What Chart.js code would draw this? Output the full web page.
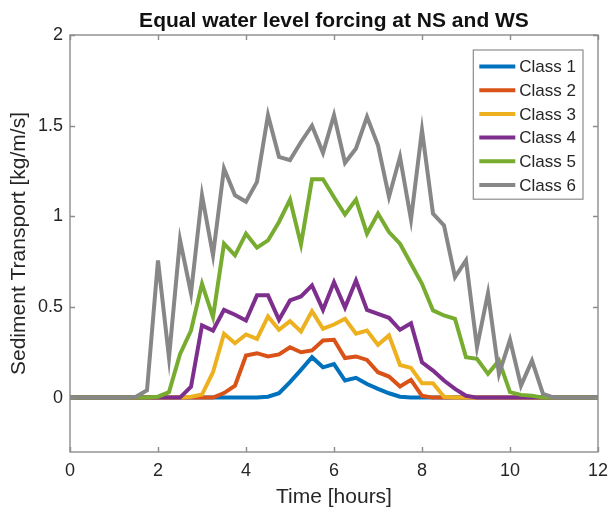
<!DOCTYPE html>
<html>
<head>
<meta charset="utf-8">
<script src="https://cdn.jsdelivr.net/npm/chart.js@4.4.1/dist/chart.umd.min.js"></script>
<style>
  html, body { margin: 0; padding: 0; background: #ffffff; }
  #wrap { width: 616px; height: 510px; }
</style>
</head>
<body>
<div id="wrap"><canvas id="c" width="616" height="510"></canvas></div>
<script>
// Time axis (hours) and sediment transport per grain-size class (kg/m/s)
const hours = [0, 0.25, 0.5, 0.75, 1, 1.25, 1.5, 1.75, 2, 2.25, 2.5, 2.75, 3, 3.25, 3.5, 3.75,
  4, 4.25, 4.5, 4.75, 5, 5.25, 5.5, 5.75, 6, 6.25, 6.5, 6.75, 7, 7.25, 7.5, 7.75,
  8, 8.25, 8.5, 8.75, 9, 9.25, 9.5, 9.75, 10, 10.25, 10.5, 10.75, 11, 11.25, 11.5, 11.75, 12];

const class1 = [0, 0, 0, 0, 0, 0, 0, 0, 0, 0, 0, 0, 0, 0, 0, 0,
  0, 0, 0.005, 0.024, 0.085, 0.153, 0.223, 0.167, 0.185, 0.094, 0.109, 0.075, 0.048, 0.024, 0.005, 0,
  0, 0, 0, 0, 0, 0, 0, 0, 0, 0, 0, 0, 0, 0, 0, 0, 0];

const class2 = [0, 0, 0, 0, 0, 0, 0, 0, 0, 0, 0, 0, 0, 0, 0.025, 0.066,
  0.232, 0.245, 0.227, 0.238, 0.278, 0.25, 0.26, 0.315, 0.319, 0.218, 0.227, 0.208, 0.14, 0.116, 0.061, 0.098,
  0.01, 0, 0, 0, 0, 0, 0, 0, 0, 0, 0, 0, 0, 0, 0, 0, 0];

const class3 = [0, 0, 0, 0, 0, 0, 0, 0, 0, 0, 0, 0.005, 0.017, 0.14, 0.352, 0.30,
  0.348, 0.324, 0.448, 0.374, 0.422, 0.365, 0.477, 0.38, 0.403, 0.435, 0.352, 0.37, 0.291, 0.343, 0.18, 0.164,
  0.079, 0.079, 0.005, 0, 0, 0, 0, 0, 0, 0, 0, 0, 0, 0, 0, 0, 0];

const class4 = [0, 0, 0, 0, 0, 0, 0, 0, 0, 0, 0, 0.06, 0.398, 0.37, 0.484, 0.457,
  0.425, 0.564, 0.564, 0.429, 0.536, 0.558, 0.619, 0.484, 0.637, 0.497, 0.646, 0.484, 0.462, 0.44, 0.374, 0.41,
  0.195, 0.149, 0.094, 0.048, 0.01, 0, 0, 0, 0, 0, 0, 0, 0, 0, 0, 0, 0];

const class5 = [0, 0, 0, 0, 0, 0, 0, 0, 0.005, 0.03, 0.24, 0.37, 0.628, 0.444, 0.849, 0.785,
  0.904, 0.827, 0.867, 0.969, 1.092, 0.845, 1.204, 1.204, 1.105, 1.01, 1.092, 0.904, 1.015, 0.913, 0.849, 0.738,
  0.628, 0.481, 0.453, 0.435, 0.223, 0.214, 0.131, 0.204, 0.03, 0.015, 0.01, 0, 0, 0, 0, 0, 0];

const class6 = [0, 0, 0, 0, 0, 0, 0.005, 0.04, 0.757, 0.22, 0.87, 0.576, 1.116, 0.785, 1.264, 1.116,
  1.08, 1.19, 1.558, 1.328, 1.31, 1.41, 1.50, 1.35, 1.558, 1.295, 1.374, 1.549, 1.392, 1.107, 1.328, 0.982,
  1.475, 1.015, 0.95, 0.665, 0.757, 0.278, 0.576, 0.13, 0.319, 0.066, 0.204, 0.02, 0, 0, 0, 0, 0];

const seriesNames = ['Class 1', 'Class 2', 'Class 3', 'Class 4', 'Class 5', 'Class 6'];
const seriesValues = [class1, class2, class3, class4, class5, class6];
const seriesColors = ['#0072BD', '#D95319', '#EDB120', '#7E2F8E', '#77AC30', '#878787'];

const xTickValues = [0, 2, 4, 6, 8, 10, 12];
const yTickValues = [0, 0.5, 1, 1.5, 2];

const FONT = "'Liberation Sans', Arial, Helvetica, sans-serif";
const TEXT_COLOR = '#262626';
const AXIS_COLOR = '#8c8c8c';

// Box around the axes with inward tick marks on all four sides
const axesFrame = {
  id: 'axesFrame',
  afterDatasetsDraw(chart) {
    const { ctx, chartArea: a, scales: { x, y } } = chart;
    const L = 5;
    ctx.save();
    ctx.strokeStyle = AXIS_COLOR;
    ctx.lineWidth = 1.4;
    ctx.strokeRect(a.left, a.top, a.right - a.left, a.bottom - a.top);
    ctx.beginPath();
    x.ticks.forEach(t => {
      const px = Math.round(x.getPixelForValue(t.value)) + 0.5;
      ctx.moveTo(px, a.bottom); ctx.lineTo(px, a.bottom - L);
      ctx.moveTo(px, a.top); ctx.lineTo(px, a.top + L);
    });
    y.ticks.forEach(t => {
      const py = Math.round(y.getPixelForValue(t.value)) + 0.5;
      ctx.moveTo(a.left, py); ctx.lineTo(a.left + L, py);
      ctx.moveTo(a.right, py); ctx.lineTo(a.right - L, py);
    });
    ctx.stroke();
    ctx.restore();
  }
};

// Boxed legend in the upper-right corner of the axes
const boxedLegend = {
  id: 'boxedLegend',
  afterDraw(chart) {
    const { ctx, chartArea: a } = chart;
    const sets = chart.data.datasets.slice().sort((p, q) => p.legendIndex - q.legendIndex);
    ctx.save();
    ctx.font = '17px ' + FONT;
    const textW = Math.max(...sets.map(s => ctx.measureText(s.label).width));
    const rowH = 23.7;
    const boxW = 46 + textW + 7;
    const boxH = rowH * sets.length + 7;
    const bx = a.right - 15 - boxW;
    const by = a.top + 15;
    ctx.fillStyle = '#ffffff';
    ctx.fillRect(bx, by, boxW, boxH);
    ctx.strokeStyle = AXIS_COLOR;
    ctx.lineWidth = 1.2;
    ctx.strokeRect(bx, by, boxW, boxH);
    sets.forEach((s, i) => {
      const cy = by + 16.5 + i * rowH;
      ctx.strokeStyle = s.borderColor;
      ctx.lineWidth = 4;
      ctx.beginPath();
      ctx.moveTo(bx + 6, cy);
      ctx.lineTo(bx + 42, cy);
      ctx.stroke();
      ctx.fillStyle = TEXT_COLOR;
      ctx.textBaseline = 'middle';
      ctx.textAlign = 'left';
      ctx.fillText(s.label, bx + 46, cy + 1);
    });
    ctx.restore();
  }
};

const datasets = seriesNames.map((name, k) => ({
  label: name,
  legendIndex: k,
  data: hours.map((h, i) => ({ x: h, y: seriesValues[k][i] })),
  borderColor: seriesColors[k],
  backgroundColor: seriesColors[k],
  borderWidth: 4,
  pointRadius: 0,
  tension: 0,
  fill: false,
  order: seriesNames.length - k
}));

new Chart(document.getElementById('c'), {
  type: 'line',
  data: { datasets },
  options: {
    responsive: false,
    animation: false,
    devicePixelRatio: 1,
    layout: { padding: { left: 0, right: 13, top: 0, bottom: 0 } },
    plugins: {
      legend: { display: false },
      tooltip: { enabled: false },
      title: {
        display: true,
        fullSize: false,
        text: 'Equal water level forcing at NS and WS',
        color: '#111111',
        font: { family: FONT, size: 21, weight: 'bold', lineHeight: 1.2 },
        padding: { top: 9, bottom: 0.8 }
      }
    },
    scales: {
      x: {
        type: 'linear',
        min: 0,
        max: 12,
        afterBuildTicks: s => { s.ticks = xTickValues.map(v => ({ value: v })); },
        afterFit: s => { s.height = 58; },
        grid: { display: false, drawTicks: false },
        border: { display: false },
        ticks: {
          color: TEXT_COLOR,
          padding: 8,
          maxRotation: 0,
          font: { family: FONT, size: 18, lineHeight: 1.2 },
          callback: v => String(v)
        },
        title: {
          display: true,
          text: 'Time [hours]',
          color: TEXT_COLOR,
          font: { family: FONT, size: 21, lineHeight: 1.2 },
          padding: { top: 0, bottom: 0 }
        }
      },
      y: {
        type: 'linear',
        min: -0.3,
        max: 2,
        afterBuildTicks: s => { s.ticks = yTickValues.map(v => ({ value: v })); },
        afterFit: s => { s.width = 70; },
        grid: { display: false, drawTicks: false },
        border: { display: false },
        ticks: {
          color: TEXT_COLOR,
          padding: 7,
          font: { family: FONT, size: 18, lineHeight: 1.2 },
          callback: v => String(v)
        },
        title: {
          display: true,
          text: 'Sediment Transport [kg/m/s]',
          color: TEXT_COLOR,
          font: { family: FONT, size: 21, lineHeight: 1.2 },
          padding: { top: 7, bottom: 0 }
        }
      }
    }
  },
  plugins: [axesFrame, boxedLegend]
});
</script>
</body>
</html>
